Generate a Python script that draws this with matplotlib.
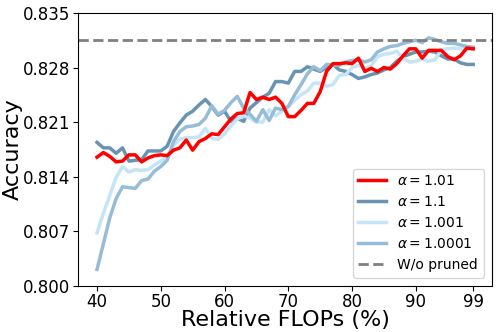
import numpy as np
import matplotlib
matplotlib.use("Agg")
import matplotlib.pyplot as plt

# relative FLOPs (%) on the x axis
flops = list(range(40, 100))

# accuracy for each alpha
acc_1_01 = [
    0.8165, 0.8171, 0.8166, 0.8159, 0.8160, 0.8168, 0.8168, 0.8159, 0.8164, 0.8167,
    0.8168, 0.8167, 0.8174, 0.8177, 0.8187, 0.8174, 0.8185, 0.8189, 0.8195, 0.8194,
    0.8204, 0.8214, 0.8221, 0.8222, 0.8248, 0.8239, 0.8242, 0.8239, 0.8242, 0.8234,
    0.8217, 0.8217, 0.8225, 0.8234, 0.8234, 0.8249, 0.8275, 0.8285, 0.8285, 0.8286,
    0.8285, 0.8292, 0.8275, 0.8279, 0.8275, 0.8280, 0.8278, 0.8285, 0.8295, 0.8304,
    0.8304, 0.8292, 0.8302, 0.8302, 0.8302, 0.8294, 0.8290, 0.8295, 0.8305, 0.8304,
]
acc_1_1 = [
    0.8184, 0.8177, 0.8177, 0.8170, 0.8177, 0.8160, 0.8161, 0.8162, 0.8173, 0.8173,
    0.8173, 0.8179, 0.8198, 0.8209, 0.8219, 0.8224, 0.8232, 0.8239, 0.8230, 0.8219,
    0.8224, 0.8211, 0.8215, 0.8211, 0.8228, 0.8235, 0.8242, 0.8247, 0.8262, 0.8262,
    0.8260, 0.8275, 0.8275, 0.8281, 0.8278, 0.8275, 0.8280, 0.8284, 0.8277, 0.8275,
    0.8271, 0.8266, 0.8268, 0.8271, 0.8273, 0.8277, 0.8280, 0.8288, 0.8294, 0.8297,
    0.8300, 0.8300, 0.8301, 0.8300, 0.8295, 0.8291, 0.8291, 0.8286, 0.8284, 0.8284,
]
acc_1_001 = [
    0.8068, 0.8093, 0.8116, 0.8139, 0.8153, 0.8146, 0.8149, 0.8148, 0.8149, 0.8155,
    0.8160, 0.8166, 0.8180, 0.8188, 0.8190, 0.8190, 0.8191, 0.8202, 0.8189, 0.8188,
    0.8195, 0.8205, 0.8214, 0.8218, 0.8215, 0.8210, 0.8210, 0.8226, 0.8218, 0.8224,
    0.8230, 0.8238, 0.8245, 0.8250, 0.8260, 0.8260, 0.8256, 0.8258, 0.8270, 0.8271,
    0.8280, 0.8283, 0.8279, 0.8282, 0.8294, 0.8297, 0.8298, 0.8301, 0.8292, 0.8287,
    0.8288, 0.8291, 0.8288, 0.8290, 0.8303, 0.8304, 0.8305, 0.8304, 0.8304, 0.8304,
]
acc_1_0001 = [
    0.8021, 0.8054, 0.8087, 0.8112, 0.8127, 0.8126, 0.8125, 0.8135, 0.8137, 0.8147,
    0.8153, 0.8161, 0.8185, 0.8198, 0.8204, 0.8205, 0.8207, 0.8215, 0.8231, 0.8220,
    0.8225, 0.8235, 0.8243, 0.8228, 0.8220, 0.8211, 0.8226, 0.8212, 0.8228, 0.8226,
    0.8230, 0.8245, 0.8258, 0.8272, 0.8281, 0.8276, 0.8284, 0.8283, 0.8283, 0.8287,
    0.8289, 0.8290, 0.8287, 0.8290, 0.8300, 0.8304, 0.8307, 0.8308, 0.8311, 0.8313,
    0.8315, 0.8312, 0.8318, 0.8316, 0.8313, 0.8311, 0.8311, 0.8309, 0.8307, 0.8306,
]
unpruned_acc = 0.8315

x_ticks = [40, 50, 60, 70, 80, 90, 99]
y_ticks = [0.800, 0.807, 0.814, 0.821, 0.828, 0.835]

fig = plt.figure(figsize=(4.98, 3.32), dpi=100)
ax = fig.add_axes([0.157, 0.139, 0.831, 0.822])

ax.plot(flops, acc_1_1, color="#6894b2", lw=2.5, label=r"$\alpha=1.1$", zorder=2)
ax.plot(flops, acc_1_001, color="#c4e4f8", lw=2.5, label=r"$\alpha=1.001$", zorder=2)
ax.plot(flops, acc_1_0001, color="#96bcd7", lw=2.5, label=r"$\alpha=1.0001$", zorder=2)
ax.plot(flops, acc_1_01, color="red", lw=2.5, label=r"$\alpha=1.01$", zorder=3)
ax.axhline(unpruned_acc, color="gray", ls="--", lw=2, label="W/o pruned")

ax.set_xticks(x_ticks)
ax.set_yticks(y_ticks)
ax.set_yticklabels([f"{v:.3f}" for v in y_ticks])
ax.set_ylim(0.800, 0.835)
ax.tick_params(labelsize=12, pad=2)
ax.set_xlabel("Relative FLOPs (%)", fontsize=16, labelpad=-1)
ax.set_ylabel("Accuracy", fontsize=16, labelpad=0)

handles, labels = ax.get_legend_handles_labels()
order = [3, 0, 1, 2, 4]
ax.legend([handles[i] for i in order], [labels[i] for i in order],
          loc="lower right", fontsize=10, borderaxespad=0.6)

fig.savefig("out.png", dpi=100)
